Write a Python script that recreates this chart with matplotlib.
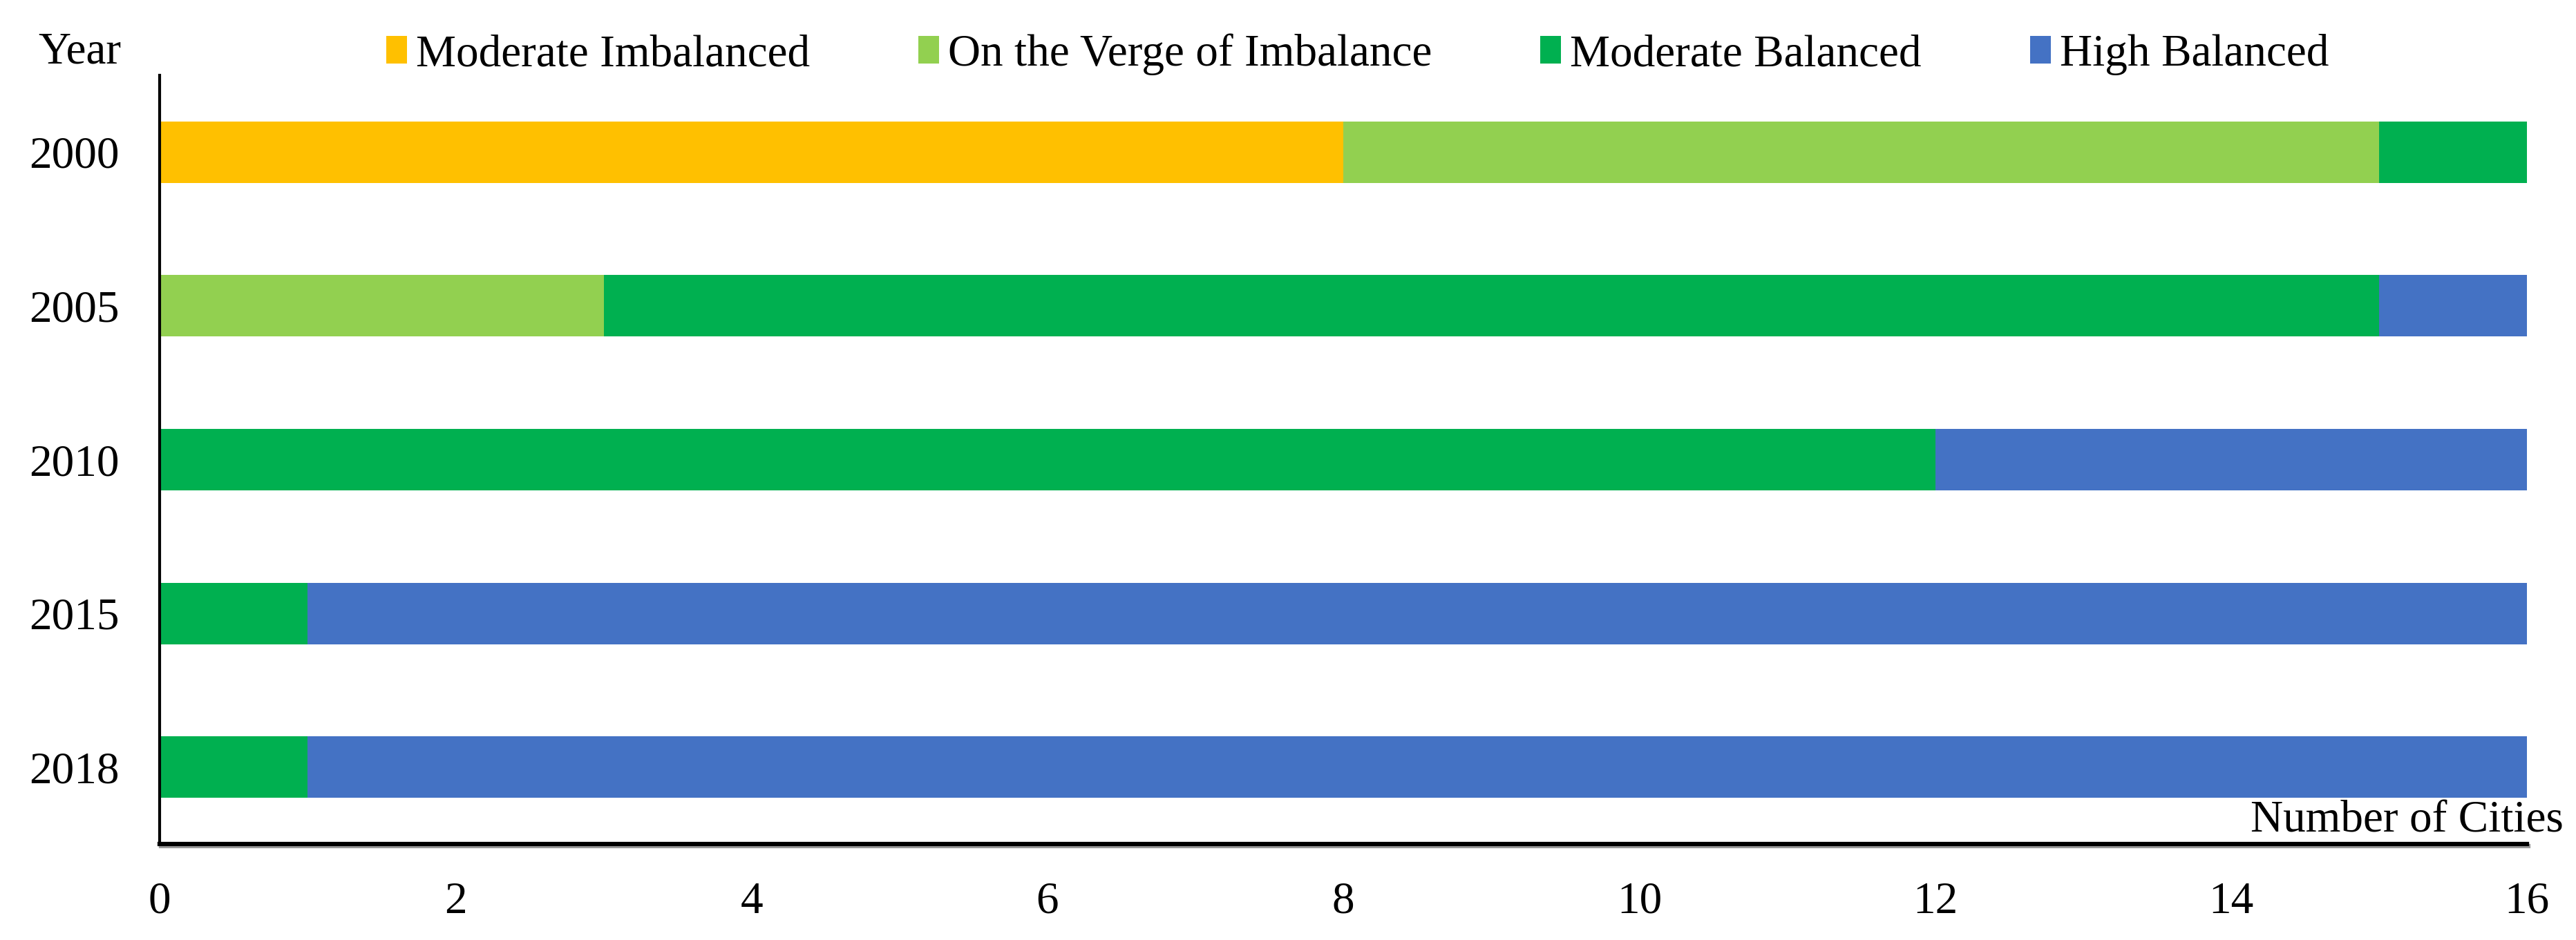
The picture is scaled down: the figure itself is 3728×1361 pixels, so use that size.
import numpy as np
import matplotlib
matplotlib.use("Agg")
import matplotlib.pyplot as plt
import matplotlib.patheffects as pe
from matplotlib.patches import Patch

# dados
years = ["2000", "2005", "2010", "2015", "2018"]
categories = ["Moderate Imbalanced", "On the Verge of Imbalance",
              "Moderate Balanced", "High Balanced"]
moderate_imbalanced = [8, 0, 0, 0, 0]
verge_imbalance = [7, 3, 0, 0, 0]
moderate_balanced = [1, 12, 12, 1, 1]
high_balanced = [0, 1, 4, 15, 15]
x_ticks = [0, 2, 4, 6, 8, 10, 12, 14, 16]

colors = ["#FFC000", "#92D050", "#00B050", "#4472C4"]

plt.rcParams['font.family'] = ['Liberation Serif', 'DejaVu Serif']

FS = 47  # ~65 px a 100 dpi

fig = plt.figure(figsize=(37.28, 13.61), dpi=100)
ax = fig.add_axes([0.062, 0.1021, 0.981 - 0.062, 0.920 - 0.1021])

series = [moderate_imbalanced, verge_imbalance, moderate_balanced, high_balanced]
y = np.arange(len(years))
left = np.zeros(len(years))
for vals, col, name in zip(series, colors, categories):
    vals = np.array(vals, dtype=float)
    ax.barh(y, vals, left=left, height=0.4, color=col, label=name, linewidth=0)
    left += vals

ax.set_ylim(len(years) - 0.5, -0.5)
ax.set_xlim(0, 16)
ax.set_yticks(y)
ax.set_yticklabels(years, fontsize=FS)
ax.set_xticks(x_ticks)
ax.set_xticklabels([str(t) for t in x_ticks], fontsize=FS)
ax.tick_params(axis='y', length=0, pad=42)
ax.tick_params(axis='x', length=0, pad=39)

for s in ['top', 'right']:
    ax.spines[s].set_visible(False)
ax.spines['left'].set_linewidth(3)
ax.spines['bottom'].set_linewidth(4.5)
ax.spines['bottom'].set_path_effects([
    pe.SimpleLineShadow(offset=(1.5, -2), shadow_color='gray', alpha=0.8),
    pe.Normal()])

ax.text(1.0 + 53 / 3426, 0.03, "Number of Cities", transform=ax.transAxes,
        ha='right', va='center', fontsize=FS)

fig.text(0.031, 0.944, "Year", ha='center', va='center', fontsize=FS)

handles = [Patch(facecolor=c, edgecolor='none') for c in colors]
fig.legend(handles, categories, loc='center', bbox_to_anchor=(0.527, 0.942),
           ncol=4, frameon=False, fontsize=FS, handlelength=0.46,
           handleheight=0.55, handletextpad=0.2, columnspacing=2.4)

fig.savefig("out.png", dpi=100)
